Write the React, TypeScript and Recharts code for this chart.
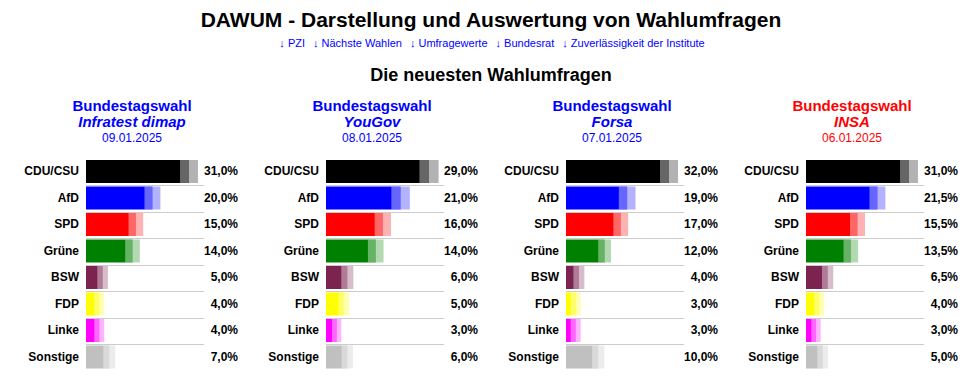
import React from "react";
import { Bar, BarChart, Cell, XAxis, YAxis } from "recharts";

// parties and their colours
const PARTIES = ["CDU/CSU", "AfD", "SPD", "Grüne", "BSW", "FDP", "Linke", "Sonstige"];
const PARTY_COLORS = ["#000000", "#0000ff", "#ff0000", "#008000", "#7b2450", "#ffff00", "#ff00ff", "#c0c0c0"];

// the four latest polls
const INSTITUTES = ["Infratest dimap", "YouGov", "Forsa", "INSA"];
const DATES = ["09.01.2025", "08.01.2025", "07.01.2025", "06.01.2025"];
const HEADER_COLORS = ["#0000ff", "#0000ff", "#0000ff", "#ff0000"];

const INFRATEST_VALUES = [31, 20, 15, 14, 5, 4, 4, 7];
const YOUGOV_VALUES = [29, 21, 16, 14, 6, 5, 3, 6];
const FORSA_VALUES = [32, 19, 17, 12, 4, 3, 3, 10];
const INSA_VALUES = [31, 21.5, 15.5, 13.5, 6.5, 4, 3, 5];

// margin of error (+/- points) shown as the pale box around each bar end
const INFRATEST_ERRORS = [2.7, 2.4, 2.2, 2.2, 1.6, 1.5, 1.5, 1.8];
const YOUGOV_ERRORS = [2.7, 2.6, 2.3, 2.2, 1.7, 1.5, 1.3, 1.6];
const FORSA_ERRORS = [2.8, 2.6, 2.3, 2.0, 1.7, 1.55, 1.55, 1.9];
const INSA_ERRORS = [2.7, 2.4, 2.25, 2.2, 1.7, 1.5, 1.4, 1.6];

const LINKS = ["PZI", "Nächste Wahlen", "Umfragewerte", "Bundesrat", "Zuverlässigkeit der Institute"];

const POLLS = [
  { values: INFRATEST_VALUES, errors: INFRATEST_ERRORS },
  { values: YOUGOV_VALUES, errors: YOUGOV_ERRORS },
  { values: FORSA_VALUES, errors: FORSA_ERRORS },
  { values: INSA_VALUES, errors: INSA_ERRORS },
];

const FONT = "Arial, 'Liberation Sans', sans-serif";
const BAR = 23;

const fmt = (v: number) => v.toFixed(1).replace(".", ",") + "%";

function PollChart({ values, errors }: { values: number[]; errors: number[] }) {
  const rows = PARTIES.map((party, i) => ({
    party,
    value: values[i],
    inner: [Math.max(0, values[i] - errors[i]), values[i]],
    outer: [values[i], values[i] + errors[i]],
  }));
  const max = Math.max(...values);

  const PartyTick = (props: any) => (
    <text x={props.x} y={props.y} textAnchor="end" dominantBaseline="central"
      fontFamily={FONT} fontSize={12} fontWeight="bold" fill="#000">
      {props.payload.value}
    </text>
  );
  const ValueTick = (props: any) => (
    <text x={props.x} y={props.y} textAnchor="end" dominantBaseline="central"
      fontFamily={FONT} fontSize={12} fontWeight="bold" fill="#000">
      {fmt(values[props.index])}
    </text>
  );

  const MainShape = (props: any) => {
    const { x, y, width, height, fill, index } = props;
    const ly = Math.round(y + height + 2) + 0.5;
    return (
      <g>
        <rect x={x} y={y} width={width} height={height} fill={fill} />
        {index < rows.length - 1 && (
          <line x1={24} x2={240} y1={ly} y2={ly} stroke="#cccccc" strokeWidth={1} />
        )}
      </g>
    );
  };

  return (
    <BarChart width={240} height={212} layout="vertical" data={rows}
      margin={{ top: 0, right: 0, bottom: 0, left: 0 }} barSize={BAR} barGap={-BAR}>
      <XAxis type="number" hide allowDataOverflow domain={[0, (max * 118) / 103]} />
      <YAxis yAxisId="l" type="category" dataKey="party" width={86} axisLine={false}
        tickLine={false} tickSize={0} tickMargin={7} interval={0} tick={PartyTick} />
      <YAxis yAxisId="r" orientation="right" type="category" dataKey="party" width={36}
        axisLine={false} tickLine={false} tickSize={0} tickMargin={34} interval={0} tick={ValueTick} />
      <Bar yAxisId="l" dataKey="value" isAnimationActive={false} shape={MainShape}>
        {rows.map((r, i) => (
          <Cell key={`m-${i}`} fill={PARTY_COLORS[i]} />
        ))}
      </Bar>
      <Bar yAxisId="l" dataKey="inner" fill="#ffffff" fillOpacity={0.4} isAnimationActive={false} />
      <Bar yAxisId="l" dataKey="outer" fillOpacity={0.3} isAnimationActive={false}>
        {rows.map((r, i) => (
          <Cell key={`o-${i}`} fill={PARTY_COLORS[i]} />
        ))}
      </Bar>
    </BarChart>
  );
}

export default function App() {
  return (
    <div style={{ position: "absolute", left: 0, top: 0, width: 970, height: 376, fontFamily: FONT, background: "#fff", overflow: "hidden" }}>
      <div style={{ position: "absolute", left: 0, top: 8, width: 982, textAlign: "center", fontSize: 21, lineHeight: "24px", fontWeight: "bold" }}>
        DAWUM - Darstellung und Auswertung von Wahlumfragen
      </div>
      <div style={{ position: "absolute", left: 0, top: 37, width: 984, textAlign: "center", fontSize: 11, lineHeight: "13px", color: "#0000ff" }}>
        {LINKS.map((l) => (
          <span key={l} style={{ margin: "0 4px" }}>↓ {l}</span>
        ))}
      </div>
      <div style={{ position: "absolute", left: 0, top: 65, width: 982, textAlign: "center", fontSize: 18, lineHeight: "20px", fontWeight: "bold" }}>
        Die neuesten Wahlumfragen
      </div>
      {POLLS.map((p, i) => (
        <React.Fragment key={INSTITUTES[i]}>
          <div style={{ position: "absolute", left: 24 + 240 * i, top: 98, width: 216, textAlign: "center", color: HEADER_COLORS[i] }}>
            <div style={{ fontSize: 15, lineHeight: "16px", fontWeight: "bold" }}>Bundestagswahl</div>
            <div style={{ fontSize: 15, lineHeight: "16px", fontWeight: "bold", fontStyle: "italic" }}>{INSTITUTES[i]}</div>
            <div style={{ fontSize: 12, lineHeight: "16px" }}>{DATES[i]}</div>
          </div>
          <div style={{ position: "absolute", left: 240 * i, top: 158 }}>
            <PollChart values={p.values} errors={p.errors} />
          </div>
        </React.Fragment>
      ))}
    </div>
  );
}
